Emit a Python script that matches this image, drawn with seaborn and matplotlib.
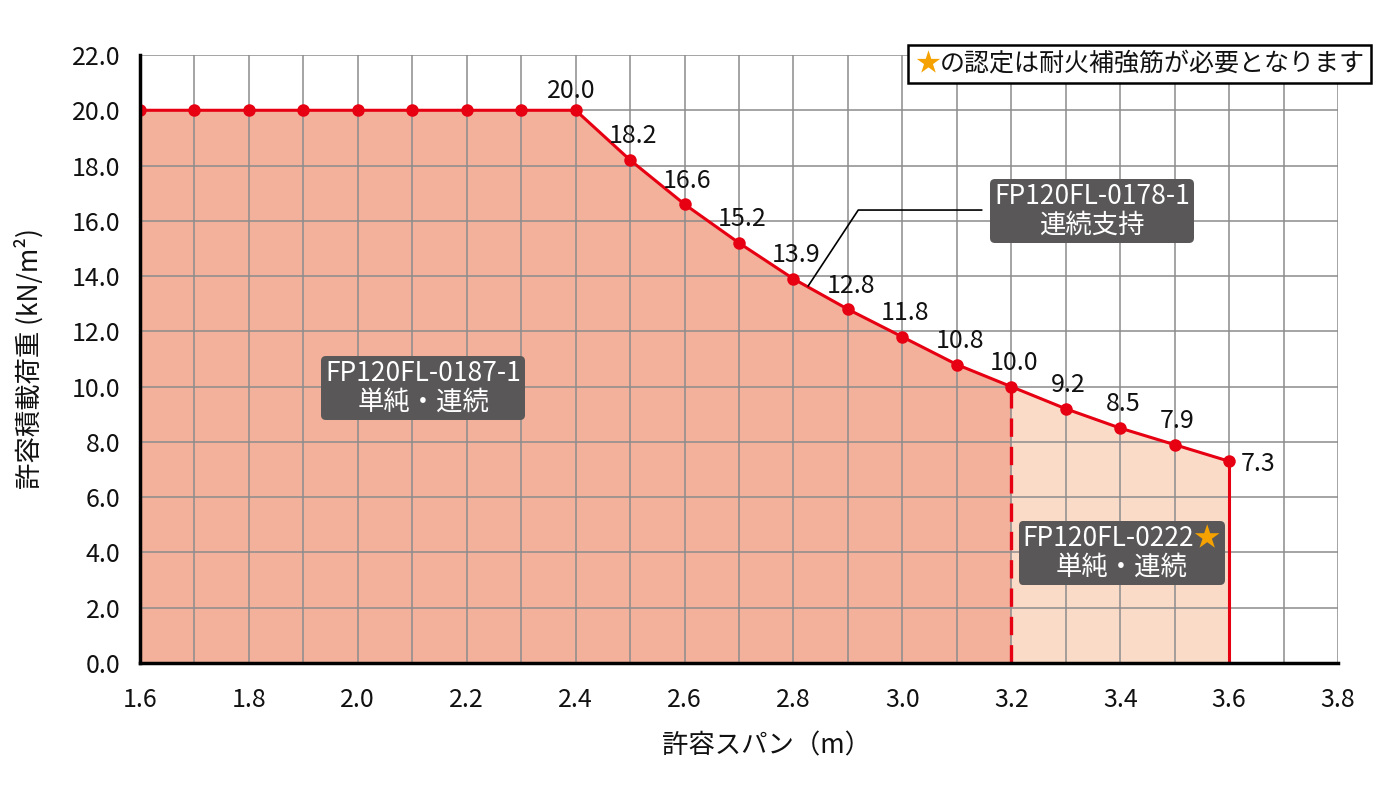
import numpy as np
import pandas as pd
import matplotlib
matplotlib.use("Agg")
import matplotlib.pyplot as plt
import seaborn as sns
from matplotlib.offsetbox import TextArea, HPacker, VPacker, AnnotationBbox

# datos del grafico
span = [1.6, 1.7, 1.8, 1.9, 2.0, 2.1, 2.2, 2.3, 2.4, 2.5, 2.6,
        2.7, 2.8, 2.9, 3.0, 3.1, 3.2, 3.3, 3.4, 3.5, 3.6]
load = [20.0, 20.0, 20.0, 20.0, 20.0, 20.0, 20.0, 20.0, 20.0, 18.2, 16.6,
        15.2, 13.9, 12.8, 11.8, 10.8, 10.0, 9.2, 8.5, 7.9, 7.3]
split_span = 3.2          # limite entre 0187-1 y 0222
label_from = 2.4          # valores rotulados desde aqui
xticks = [1.6, 1.8, 2.0, 2.2, 2.4, 2.6, 2.8, 3.0, 3.2, 3.4, 3.6, 3.8]
yticks = [0, 2, 4, 6, 8, 10, 12, 14, 16, 18, 20, 22]
box_0187 = ("FP120FL-0187-1", "単純・連続")
box_0178 = ("FP120FL-0178-1", "連続支持")
box_0222 = ("FP120FL-0222", "単純・連続")
note_text = "の認定は耐火補強筋が必要となります"
xlabel = "許容スパン（m）"
ylabel = "許容積載荷重 (kN/m²)"

df = pd.DataFrame({"span": span, "load": load})

RED = "#e60012"
DARK_FILL = "#f3b09a"
LIGHT_FILL = "#fadbc8"
BOX_GRAY = "#595757"
GOLD = "#f5a200"
FAMILY = ["Noto Sans CJK JP", "DejaVu Sans"]

sns.set_style("white")
plt.rcParams["font.family"] = FAMILY

fig = plt.figure(figsize=(14, 8), dpi=100)
ax = fig.add_axes([0.1, 0.17125, 0.8557, 0.76])

# rellenos
left = df[df["span"] <= split_span + 1e-9]
right = df[df["span"] >= split_span - 1e-9]
ax.fill_between(left["span"], 0, left["load"], color=DARK_FILL, lw=0, zorder=1)
ax.fill_between(right["span"], 0, right["load"], color=LIGHT_FILL, lw=0, zorder=1)

# lineas verticales
y_split = df.loc[np.isclose(df["span"], split_span), "load"].iloc[0]
ax.plot([split_span, split_span], [0, y_split], color=RED, lw=2.4,
        ls=(0, (5.5, 3)), zorder=3)
ax.plot([span[-1], span[-1]], [0, load[-1]], color=RED, lw=2.2, zorder=3)

sns.lineplot(data=df, x="span", y="load", color=RED, lw=2.2, marker="o",
             markersize=9, markeredgewidth=0, ax=ax, zorder=4)

# etiquetas de valores
for x, y in zip(span, load):
    if x < label_from - 1e-9:
        continue
    if x == span[-1]:
        off = (21, -2)
    elif x == label_from:
        off = (-3, 14)
    else:
        off = (2, 17)
    ax.annotate(f"{y:.1f}", (x, y), xytext=off, textcoords="offset points",
                ha="center", va="center", fontsize=18, color="#111111", zorder=6)

# ejes
ax.set_xlim(1.6, 3.8)
ax.set_ylim(0, 22)
ax.set_xticks(xticks)
ax.set_xticklabels([f"{v:.1f}" for v in xticks])
ax.set_xticks(np.arange(16, 39) / 10, minor=True)
ax.set_yticks(yticks)
ax.set_yticklabels([f"{v:.1f}" for v in yticks])
ax.tick_params(axis="both", which="major", direction="in", length=8, width=2,
               color="black", labelsize=18, labelcolor="#111111")
ax.tick_params(axis="x", which="major", pad=17)
ax.tick_params(axis="y", which="major", pad=14)
ax.tick_params(axis="x", which="minor", length=0)
ax.grid(True, which="both", color="#8c8c8c", lw=1.1)
ax.grid(False, axis="y", which="minor")
ax.set_axisbelow(False)
for side in ["top", "right"]:
    ax.spines[side].set_visible(False)
for side in ["left", "bottom"]:
    ax.spines[side].set_linewidth(2.5)
    ax.spines[side].set_color("black")
    ax.spines[side].set_zorder(5)

ax.set_xlabel(xlabel, fontsize=19, color="#111111")
ax.set_ylabel(ylabel, fontsize=19, color="#111111")
ax.xaxis.set_label_coords(0.523, -0.115)
ax.yaxis.set_label_coords(-0.08, 0.5)


def gray_box(lines, xy, star=False):
    tp = dict(color="white", fontsize=19, family=FAMILY)
    first = TextArea(lines[0], textprops=tp)
    if star:
        first = HPacker(children=[first, TextArea("★", textprops=dict(tp, color=GOLD))],
                        align="baseline", pad=0, sep=0)
    pack = VPacker(children=[first, TextArea(lines[1], textprops=tp)],
                   align="center", pad=0, sep=1)
    ab = AnnotationBbox(pack, xy, xycoords="data", frameon=True, pad=0.45,
                        bboxprops=dict(boxstyle="round,pad=0.3,rounding_size=0.35",
                                       fc=BOX_GRAY, ec="none"), zorder=7)
    ax.add_artist(ab)


gray_box(box_0187, (2.12, 9.95))
gray_box(box_0178, (3.348, 16.35))
gray_box(box_0222, (3.403, 3.98), star=True)

# linea guia hacia la curva
ax.plot([2.827, 2.919, 3.146], [13.64, 16.39, 16.39], color="black", lw=1.2, zorder=6)

# nota superior
tp_note = dict(color="#111111", fontsize=18, family=FAMILY)
note = HPacker(children=[TextArea("★", textprops=dict(tp_note, color=GOLD)),
                         TextArea(note_text, textprops=tp_note)],
               align="baseline", pad=0, sep=0)
ab = AnnotationBbox(note, (0.814, 0.92), xycoords="figure fraction", frameon=True,
                    pad=0.45, bboxprops=dict(boxstyle="square,pad=0.45", fc="white",
                                             ec="black", lw=1.8), zorder=8)
ax.add_artist(ab)
ab.set_clip_on(False)

plt.savefig("out.png", dpi=100)
plt.close()
